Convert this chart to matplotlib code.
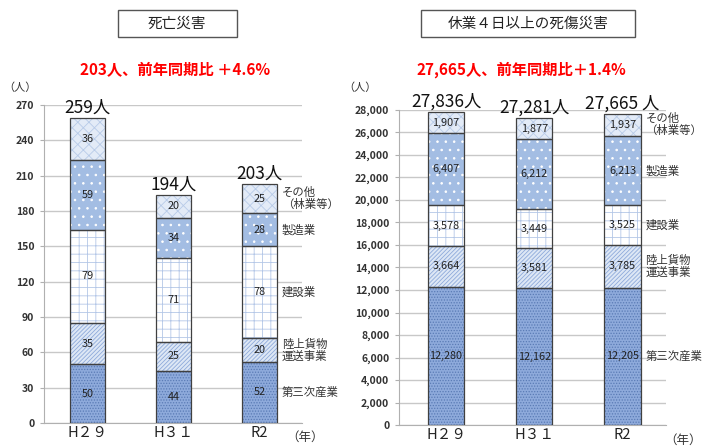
import matplotlib

matplotlib.use("Agg")
import matplotlib.pyplot as plt
import numpy as np
from matplotlib.patches import Rectangle

plt.rcParams["font.family"] = ["Noto Sans CJK JP", "DejaVu Sans"]
plt.rcParams["hatch.linewidth"] = 0.6

YEARS = ["H２９", "H３１", "R2"]
INDUSTRIES = ["第三次産業", "陸上貨物\n運送事業", "建設業", "製造業", "その他\n（林業等）"]

# deaths (left chart), bottom to top
DEATHS_TERTIARY = [50, 44, 52]
DEATHS_TRANSPORT = [35, 25, 20]
DEATHS_CONSTRUCTION = [79, 71, 78]
DEATHS_MANUFACTURING = [59, 34, 28]
DEATHS_OTHER = [36, 20, 25]
DEATHS_TOTAL = ["259人", "194人", "203人"]

# injuries with 4+ days off (right chart), bottom to top
INJ_TERTIARY = [12280, 12162, 12205]
INJ_TRANSPORT = [3664, 3581, 3785]
INJ_CONSTRUCTION = [3578, 3449, 3525]
INJ_MANUFACTURING = [6407, 6212, 6213]
INJ_OTHER = [1907, 1877, 1937]
INJ_TOTAL = ["27,836人", "27,281人", "27,665 人"]

# fill, hatch, hatch colour per segment
STYLES = [
    ("#8eaadb", "......", "#5a7bb5"),
    ("#dde7f5", "////////", "#8eaadb"),
    ("#ffffff", "++", "#b4c7e7"),
    ("#a3bde3", "..", "#ffffff"),
    ("#e3ebf7", "xxx", "#b8cbe8"),
]
EDGE = "#404040"
GRID = "#c8c8c8"


def stacked(ax, series, fmt, width):
    x = np.arange(len(YEARS))
    bottom = np.zeros(len(YEARS))
    mids = []
    for values, (fill, hatch, hcol) in zip(series, STYLES):
        values = np.array(values, dtype=float)
        ax.bar(x, values, width, bottom=bottom, color=fill, linewidth=0, zorder=2)
        ax.bar(x, values, width, bottom=bottom, fill=False, hatch=hatch,
               edgecolor=hcol, linewidth=0, zorder=3)
        ax.bar(x, values, width, bottom=bottom, fill=False, edgecolor=EDGE,
               linewidth=0.9, zorder=4)
        for xi, b, v in zip(x, bottom, values):
            ax.text(xi, b + v / 2, fmt(v), ha="center", va="center", fontsize=7.8,
                    color="#222222", zorder=5)
        mids.append(bottom[-1] + values[-1] / 2)
        bottom = bottom + values
    return bottom, mids


def style_axes(ax, ymax, step, fmt):
    ax.set_ylim(0, ymax)
    ax.set_yticks(np.arange(0, ymax + 1, step))
    ax.set_yticklabels([fmt(v) for v in np.arange(0, ymax + 1, step)], fontsize=7.5,
                       fontweight="bold", color="#333333")
    ax.yaxis.grid(True, color=GRID, linewidth=1.0, zorder=0)
    ax.set_axisbelow(True)
    for s in ("top", "right"):
        ax.spines[s].set_visible(False)
    for s in ("left", "bottom"):
        ax.spines[s].set_color("#b0b0b0")
    ax.tick_params(axis="y", length=3, color="#b0b0b0", pad=4)
    ax.tick_params(axis="x", length=0, pad=2)
    ax.set_xticks(range(len(YEARS)))
    ax.set_xticklabels(YEARS, fontsize=10.5, color="#222222")


fig = plt.figure(figsize=(7.12, 4.48), dpi=100)

# left: deaths
axL = fig.add_axes([44 / 712, 1 - 423 / 448, 258 / 712, 318 / 448])
tops, mids = stacked(axL, [DEATHS_TERTIARY, DEATHS_TRANSPORT, DEATHS_CONSTRUCTION,
                           DEATHS_MANUFACTURING, DEATHS_OTHER],
                     lambda v: f"{v:.0f}", 0.41)
axL.set_xlim(-0.506, 2.494)
style_axes(axL, 270, 30, lambda v: f"{v:.0f}")
for xi, top, label in zip(range(3), tops, DEATHS_TOTAL):
    axL.text(xi, top + 1, label, ha="center", va="bottom", fontsize=12.5, color="#111111")
for mid, name in zip(mids, INDUSTRIES):
    axL.text(2.26, mid, name, ha="left", va="center", fontsize=8.2, color="#333333",
             linespacing=1.1)

# right: injuries
axR = fig.add_axes([399 / 712, 1 - 425 / 448, 267 / 712, 315 / 448])
tops, mids = stacked(axR, [INJ_TERTIARY, INJ_TRANSPORT, INJ_CONSTRUCTION,
                           INJ_MANUFACTURING, INJ_OTHER],
                     lambda v: f"{v:,.0f}", 0.41)
axR.set_xlim(-0.533, 2.493)
style_axes(axR, 28000, 2000, lambda v: f"{v:,.0f}")
for xi, top, label in zip(range(3), tops, INJ_TOTAL):
    axR.text(xi, top + 100, label, ha="center", va="bottom", fontsize=12.5, color="#111111")
for mid, name in zip(mids, INDUSTRIES):
    axR.text(2.26, mid, name, ha="left", va="center", fontsize=8.2, color="#333333",
             linespacing=1.1)

# titles, units
fig.text(177 / 712, 1 - 24 / 448, "死亡災害", ha="center", va="center", fontsize=10.5,
         color="#222222")
fig.add_artist(Rectangle((118 / 712, 1 - 37 / 448), 119 / 712, 27 / 448,
                         transform=fig.transFigure, fill=False, ec="#555555", lw=1))
fig.text(528 / 712, 1 - 24 / 448, "休業４日以上の死傷災害", ha="center", va="center",
         fontsize=10.5, color="#222222")
fig.add_artist(Rectangle((421 / 712, 1 - 37 / 448), 214 / 712, 27 / 448,
                         transform=fig.transFigure, fill=False, ec="#555555", lw=1))

fig.text(175 / 712, 1 - 70 / 448, "203人、前年同期比 ＋4.6%", ha="center", va="center",
         fontsize=11, fontweight="bold", color="#ff0000")
fig.text(521 / 712, 1 - 70 / 448, "27,665人、前年同期比＋1.4%", ha="center", va="center",
         fontsize=11, fontweight="bold", color="#ff0000")

fig.text(3 / 712, 1 - 88 / 448, "（人）", ha="left", va="center", fontsize=8, color="#333333")
fig.text(343 / 712, 1 - 88 / 448, "（人）", ha="left", va="center", fontsize=8, color="#333333")
fig.text(286 / 712, 1 - 437 / 448, "（年）", ha="left", va="center", fontsize=9, color="#333333")
fig.text(664 / 712, 1 - 440 / 448, "（年）", ha="left", va="center", fontsize=9, color="#333333")

fig.savefig("out.png", dpi=100)
